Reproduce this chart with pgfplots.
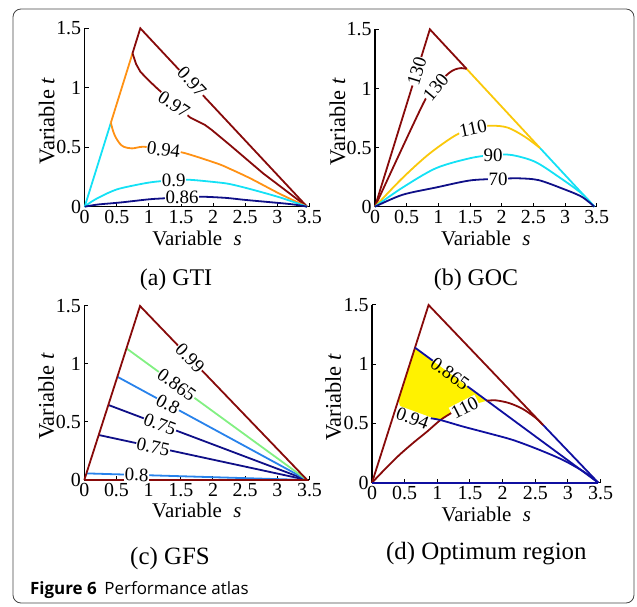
\documentclass[border=0pt]{standalone}
\usepackage{fontspec}
\setmainfont{Liberation Serif}
\newfontfamily\capfont{Open Sans}
\usepackage{pgfplots}
\pgfplotsset{compat=1.18}
\definecolor{dred}{RGB}{135,10,10}
\definecolor{corange}{RGB}{255,145,20}
\definecolor{ccyan}{RGB}{20,225,245}
\definecolor{cnavy}{RGB}{15,15,135}
\definecolor{cgold}{RGB}{250,200,10}
\definecolor{cgreen}{RGB}{130,240,130}
\definecolor{cblue}{RGB}{40,130,235}
\definecolor{dblue}{RGB}{15,15,160}
\tikzset{clab/.style={fill=white, inner sep=0.6bp, font=\fontsize{19}{20}\selectfont}}
\pgfplotsset{
 atlas/.style={
  scale only axis, anchor=south west,
  xmin=0,xmax=3.5,ymin=0,ymax=1.5,
  axis lines=left,
  x axis line style={-}, y axis line style={-},
  axis line style={line width=1.4bp, black},
  xtick={0,0.5,...,3.5}, ytick={0,0.5,1,1.5},
  tick align=inside, major tick length=4bp,
  tick style={black, line width=1bp},
  ticklabel style={font=\fontsize{20}{22}\selectfont},
  /pgf/number format/assume math mode=true,
  xlabel={Variable\hspace{0.55em}\textit{s}},
  ylabel={Variable \textit{t}},
  xlabel style={font=\fontsize{21}{22}\selectfont, at={(axis description cs:0.5,-0.177)}, anchor=center},
  ylabel style={font=\fontsize{22.5}{23}\selectfont, at={(axis description cs:-0.169,0.48)}, anchor=center},
  clip=false,
  every axis plot/.append style={line width=1.8bp, no marks},
 },
}
\begin{document}
\begin{tikzpicture}
\path[use as bounding box] (0,0) rectangle (637bp,607bp);
\draw[gray!55!black, line width=0.8bp, rounded corners=8bp] (13bp,4bp) rectangle (634bp,598bp);

% (a) GTI
\begin{axis}[atlas, at={(84.7bp,400.3bp)}, width=224.7bp, height=178.4bp]
\addplot[ccyan] coordinates {(0,0) (0.4076,0.706)};
\addplot[corange] coordinates {(0.4076,0.706) (0.745,1.29)};
\addplot[dred] coordinates {(0.745,1.29) (0.866,1.5) (3.464,0)};
\addplot[dred] coordinates {(0.745,1.29) (0.80,1.20) (0.868,1.134) (1.0,1.06) (1.13,0.994) (1.387,0.87) (1.64,0.751) (1.874,0.687) (1.98,0.645) (2.263,0.518) (2.78,0.28) (3.464,0)};
\addplot[corange, smooth, tension=0.5] coordinates {(0.4076,0.706) (0.44,0.64) (0.478,0.588) (0.54,0.535) (0.608,0.504) (0.738,0.49) (0.92,0.504) (1.23,0.478) (1.536,0.454) (2.06,0.364) (2.263,0.318) (2.58,0.238) (3.04,0.108) (3.464,0)};
\addplot[ccyan, smooth, tension=0.5] coordinates {(0,0) (0.1,0.04) (0.244,0.084) (0.504,0.146) (0.868,0.19) (1.1,0.21) (1.387,0.222) (1.64,0.226) (2.06,0.205) (2.263,0.19) (2.58,0.148) (3.04,0.078) (3.464,0)};
\addplot[cnavy, smooth, tension=0.5] coordinates {(0,0) (0.2,0.018) (0.55,0.035) (1.0,0.062) (1.224,0.07) (1.517,0.08) (1.82,0.084) (2.2,0.074) (2.52,0.056) (3.2,0.022) (3.464,0)};
\node[clab, rotate=-47] at (axis cs:1.67,1.05) {0.97};
\node[clab, rotate=-33] at (axis cs:1.39,0.86) {0.97};
\node[clab, rotate=-7] at (axis cs:1.23,0.478) {0.94};
\node[clab] at (axis cs:1.387,0.223) {0.9};
\node[clab] at (axis cs:1.517,0.08) {0.86};
\end{axis}

% (b) GOC
\begin{axis}[atlas, at={(375bp,400.3bp)}, width=221.7bp, height=177.4bp]
\addplot[dred] coordinates {(0,0) (0.866,1.5) (1.447,1.165)};
\addplot[cgold] coordinates {(1.447,1.165) (2.605,0.496)};
\addplot[ccyan] coordinates {(2.605,0.496) (3.464,0)};
\addplot[dred, smooth, tension=0.5] coordinates {(0,0) (0.763,0.874) (0.96,1.02) (1.16,1.127) (1.26,1.16) (1.36,1.172) (1.447,1.165)};
\addplot[cgold, smooth, tension=0.5] coordinates {(0,0) (0.42,0.235) (0.84,0.44) (1.26,0.6) (1.55,0.665) (1.84,0.685) (2.1,0.668) (2.37,0.59) (2.605,0.496)};
\addplot[ccyan, smooth, tension=0.5] coordinates {(0,0) (0.43,0.16) (0.96,0.325) (1.5,0.41) (1.864,0.437) (2.158,0.437) (2.526,0.38) (2.895,0.254) (3.26,0.113) (3.464,0)};
\addplot[cnavy, smooth, tension=0.5] coordinates {(0,0) (0.43,0.10) (0.96,0.162) (1.5,0.222) (1.943,0.235) (2.26,0.24) (2.58,0.225) (2.95,0.155) (3.26,0.085) (3.464,0)};
\node[clab, rotate=73] at (axis cs:0.66,1.145) {130};
\node[clab, rotate=50] at (axis cs:0.96,1.01) {130};
\node[clab, rotate=12] at (axis cs:1.548,0.66) {110};
\node[clab] at (axis cs:1.864,0.437) {90};
\node[clab] at (axis cs:1.943,0.235) {70};
\end{axis}

% (c) GFS
\begin{axis}[atlas, at={(84.3bp,127bp)}, width=225.2bp, height=174bp]
\addplot[cblue] coordinates {(0.03,0.057) (3.464,0)};
\addplot[cnavy] coordinates {(0.224,0.388) (3.464,0)};
\addplot[cnavy] coordinates {(0.3735,0.647) (3.464,0)};
\addplot[cblue] coordinates {(0.514,0.89) (3.464,0)};
\addplot[cgreen] coordinates {(0.655,1.135) (3.464,0)};
\addplot[dred] coordinates {(0,0) (0.866,1.5) (3.464,0) (0,0)};
\node[clab, rotate=-46] at (axis cs:1.642,1.052) {0.99};
\node[clab, rotate=-36] at (axis cs:1.435,0.82) {0.865};
\node[clab, rotate=-28.5] at (axis cs:1.30,0.653) {0.8};
\node[clab, rotate=-20.7] at (axis cs:1.176,0.479) {0.75};
\node[clab, rotate=-12.2] at (axis cs:1.07,0.287) {0.75};
\node[clab, rotate=-1.7] at (axis cs:0.813,0.044) {0.8};
\end{axis}

% (d) Optimum region
\begin{axis}[atlas, at={(372bp,124.3bp)}, width=228.6bp, height=177.7bp]
\addplot[draw=none, fill=yellow] coordinates {(0.404,0.70) (0.658,1.14) (1.756,0.692) (1.5,0.65) (1.22,0.59) (1.05,0.53) (0.84,0.548) (0.65,0.575) (0.5,0.615) (0.43,0.645) (0.404,0.70)};
\addplot[dred] coordinates {(0,0) (0.866,1.5) (2.62,0.487)};
\addplot[dblue] coordinates {(2.62,0.487) (3.464,0)};
\addplot[dblue] coordinates {(0.658,1.14) (0.93,1.03)};
\addplot[dblue] coordinates {(1.46,0.814) (3.464,0)};
\addplot[dred, smooth, tension=0.5] coordinates {(0,0) (0.2,0.115) (0.42,0.235) (0.65,0.345) (0.84,0.43) (1.05,0.53) (1.22,0.59)};
\addplot[dred, smooth, tension=0.5] coordinates {(1.756,0.692) (1.9,0.695) (2.1,0.672) (2.3,0.625) (2.5,0.55) (2.62,0.487)};
\addplot[dblue, smooth, tension=0.5] coordinates {(0.84,0.548) (1.04,0.53) (1.4,0.473) (1.8,0.415) (2.16,0.36) (2.55,0.28) (2.93,0.19) (3.25,0.09) (3.464,0)};
\addplot[dblue, line width=2.3bp] coordinates {(0,0) (3.464,0)};
\node[inner sep=0.6bp, font=\fontsize{19}{20}\selectfont, rotate=-36] at (axis cs:1.194,0.92) {0.865};
\node[clab, rotate=27] at (axis cs:1.42,0.635) {110};
\node[clab, rotate=-20] at (axis cs:0.62,0.545) {0.94};
\end{axis}

\node[font=\fontsize{24}{26}\selectfont] at (176bp,327bp) {(a) GTI};
\node[font=\fontsize{24}{26}\selectfont] at (476bp,327bp) {(b) GOC};
\node[font=\fontsize{25}{27}\selectfont] at (170bp,48.7bp) {(c) GFS};
\node[font=\fontsize{25}{27}\selectfont] at (486.3bp,53bp) {(d) Optimum region};
\node[anchor=base west, inner sep=0pt, font=\capfont\fontsize{17}{20}\selectfont] at (30bp,13bp) {\textbf{Figure 6}\hspace{0.45em}Performance atlas};
\end{tikzpicture}
\end{document}
